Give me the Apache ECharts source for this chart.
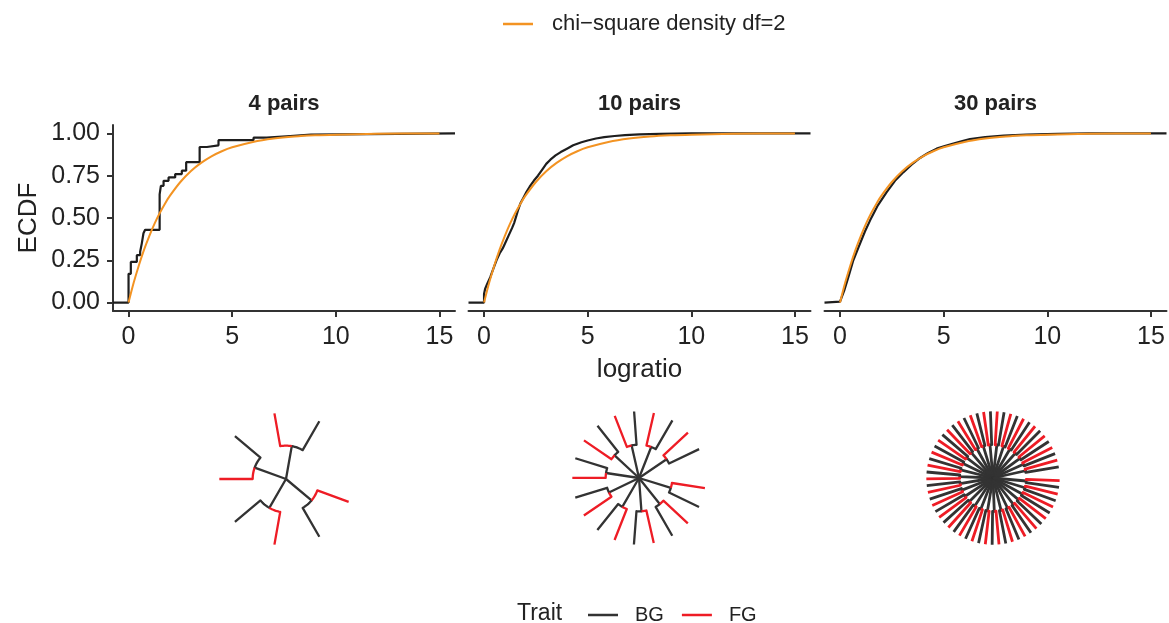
<!DOCTYPE html>
<html>
<head>
<meta charset="utf-8">
<script src="https://cdn.jsdelivr.net/npm/echarts@6/dist/echarts.min.js"></script>
<style>
html,body{margin:0;padding:0;background:#fff;}
#chart{width:1169px;height:623px;}
</style>
</head>
<body>
<div id="chart"></div>
<script>
// ---------------- DATA ----------------
const panelTitles = ['4 pairs', '10 pairs', '30 pairs'];
const xTicks = [0, 5, 10, 15];
const yTicks = [0, 0.25, 0.5, 0.75, 1];
const CHI_NAME = 'chi\u2212square density df=2';

// orange reference curve
const chiX = [0, 0.25, 0.5, 0.75, 1, 1.25, 1.5, 1.75, 2, 2.5, 3, 3.5, 4, 4.5, 5, 6, 7, 8, 9, 10, 12, 15];
const chiY = [0, 0.118, 0.221, 0.313, 0.393, 0.465, 0.528, 0.583, 0.632, 0.713, 0.777, 0.826, 0.865, 0.895, 0.918, 0.950, 0.970, 0.982, 0.989, 0.993, 0.998, 1.0];

// ECDF steps, 4 pairs
const ecdf4X = [0, 0.11, 0.40, 0.56, 0.64, 0.72, 0.80, 1.50, 1.56, 1.69, 1.93, 2.25, 2.57, 2.78, 3.43, 3.78, 4.34, 6.03, 6.67, 7.8, 8.8];
const ecdf4Y = [0.17, 0.24, 0.28, 0.30, 0.35, 0.41, 0.43, 0.64, 0.69, 0.72, 0.74, 0.76, 0.78, 0.83, 0.92, 0.93, 0.96, 0.975, 0.985, 0.993, 1.0];
// ECDF, 10 pairs (fine steps)
const ecdf10X = [0, 0, 0.05, 0.15, 0.3, 0.45, 0.6, 0.75, 0.9, 1.05, 1.2, 1.35, 1.45, 1.55, 1.65, 1.75, 1.9, 2.05, 2.2, 2.4, 2.6, 2.8, 3.0, 3.2, 3.45, 3.7, 4.0, 4.3, 4.7, 5.0, 5.4, 5.8, 6.3, 6.8, 7.5, 8.5, 10];
const ecdf10Y = [0, 0.05, 0.08, 0.11, 0.15, 0.2, 0.25, 0.29, 0.32, 0.36, 0.4, 0.44, 0.47, 0.51, 0.55, 0.585, 0.62, 0.655, 0.685, 0.72, 0.75, 0.785, 0.82, 0.845, 0.87, 0.89, 0.91, 0.93, 0.948, 0.958, 0.97, 0.978, 0.985, 0.99, 0.994, 0.997, 1.0];
// ECDF, 30 pairs (steps too fine to see)
const ecdf30X = [0, 0.2, 0.4, 0.64, 0.9, 1.2, 1.45, 1.8, 2.25, 2.65, 3.05, 3.45, 3.86, 4.25, 4.66, 5.05, 5.47, 5.9, 6.27, 7, 7.9, 9, 10.5, 12];
const ecdf30Y = [0.005, 0.07, 0.15, 0.25, 0.33, 0.42, 0.486, 0.57, 0.653, 0.72, 0.77, 0.815, 0.855, 0.885, 0.91, 0.925, 0.94, 0.955, 0.967, 0.978, 0.987, 0.993, 0.997, 1.0];

// trees: tip traits in circular order; consecutive tips form a pair (cherry)
const traits4 = ['BG','FG','BG','FG','BG','FG','BG','FG'];
const traits10 = ['BG','FG','BG','FG','BG','FG','BG','FG','BG','FG','BG','FG','BG','FG','BG','FG','BG','FG','BG','FG'];
const traits30 = ['BG','FG','BG','FG','BG','FG','BG','FG','BG','FG','BG','FG','BG','FG','BG','FG','BG','FG','BG','FG',
                  'BG','FG','BG','FG','BG','FG','BG','FG','BG','FG','BG','FG','BG','FG','BG','FG','BG','FG','BG','FG',
                  'BG','FG','BG','FG','BG','FG','BG','FG','BG','FG','BG','FG','BG','FG','BG','FG','BG','FG','BG','FG'];
const nodeDepth = 1;   // root -> cherry node branch length
const tipDepth = 2;    // root -> tip total depth

// ---------------- LAYOUT / STYLE ----------------
const FONT = "'Liberation Sans', Arial, Helvetica, sans-serif";
const X_MIN = -0.75, X_MAX = 15.75, Y_MIN = -0.05, Y_MAX = 1.05;
const COL_BLACK = '#333333', COL_RED = '#EE1C25', COL_ORANGE = '#F39322', COL_TEXT = '#222222';
const gridLefts = [113, 468.5, 824.5];
const treeCenters = [[286, 479], [639, 478], [993, 478]];
const treeRot = [20, 8.5, 3.7];
const treeLineW = [2.3, 2.3, 2.8];
const allTraits = [traits4, traits10, traits30];
const ecdfSets = [[ecdf4X, ecdf4Y, 'end'], [ecdf10X, ecdf10Y, false], [ecdf30X, ecdf30Y, false]];

const chart = echarts.init(document.getElementById('chart'), null, {renderer: 'canvas'});

const grids = [], xAxes = [], yAxes = [], series = [], polars = [], angleAxes = [], radiusAxes = [], graphics = [];

for (let i = 0; i < 3; i++) {
  grids.push({left: gridLefts[i], top: 125, width: 342, height: 186});
  xAxes.push({
    gridIndex: i, type: 'value', min: X_MIN, max: X_MAX,
    axisLine: {show: true, onZero: false, lineStyle: {color: COL_BLACK, width: 2}},
    axisTick: {show: true, length: 6, lineStyle: {color: COL_BLACK, width: 2}, customValues: xTicks},
    axisLabel: {show: true, customValues: xTicks, fontSize: 25, color: COL_TEXT, fontFamily: FONT, margin: 14},
    splitLine: {show: false},
    name: i === 1 ? 'logratio' : '', nameLocation: 'middle', nameGap: 46,
    nameTextStyle: {fontSize: 26, color: COL_TEXT, fontFamily: FONT}
  });
  const showY = i === 0;
  yAxes.push({
    gridIndex: i, type: 'value', min: Y_MIN, max: Y_MAX,
    axisLine: {show: showY, onZero: false, lineStyle: {color: COL_BLACK, width: 2}},
    axisTick: {show: showY, length: 6, lineStyle: {color: COL_BLACK, width: 2}, customValues: yTicks},
    axisLabel: {show: showY, customValues: yTicks, fontSize: 25, color: COL_TEXT, fontFamily: FONT, margin: 13,
                formatter: v => v.toFixed(2)},
    splitLine: {show: false},
    name: showY ? 'ECDF' : '', nameLocation: 'middle', nameGap: 71,
    nameTextStyle: {fontSize: 26, color: COL_TEXT, fontFamily: FONT}
  });
  const [ex, ey, st] = ecdfSets[i];
  const ecdfData = [[X_MIN, 0]].concat(ex.map((x, k) => [x, ey[k]])).concat([[X_MAX, 1]]);
  series.push({
    type: 'line', name: 'ecdf' + i, xAxisIndex: i, yAxisIndex: i, data: ecdfData,
    step: st, showSymbol: false, symbol: 'none', silent: true, z: 2,
    lineStyle: {color: '#1e1e1e', width: 2.2}
  });
  series.push({
    type: 'line', name: CHI_NAME, xAxisIndex: i, yAxisIndex: i,
    data: chiX.map((x, k) => [x, chiY[k]]), smooth: 0.3,
    showSymbol: false, symbol: 'none', silent: true, z: 3,
    itemStyle: {color: COL_ORANGE}, lineStyle: {color: COL_ORANGE, width: 2}
  });
  graphics.push({
    type: 'text', x: gridLefts[i] + 171, y: 104,
    style: {text: panelTitles[i], textAlign: 'center', textVerticalAlign: 'middle',
            font: 'bold 22px ' + FONT, fill: COL_TEXT}
  });

  // ---- tree ----
  const traits = allTraits[i];
  const n = traits.length;
  const lw = treeLineW[i];
  polars.push({center: treeCenters[i], radius: 70});
  angleAxes.push({polarIndex: i, type: 'value', min: 0, max: n + 1, startAngle: treeRot[i], clockwise: false,
    axisLine: {show: false}, axisTick: {show: false}, axisLabel: {show: false}, splitLine: {show: false}});
  radiusAxes.push({polarIndex: i, type: 'value', min: 0, max: 2.1,
    axisLine: {show: false}, axisTick: {show: false}, axisLabel: {show: false}, splitLine: {show: false}});
  ['BG', 'FG'].forEach(tr => {
    const col = tr === 'BG' ? COL_BLACK : COL_RED;
    const data = [];
    traits.forEach((t, k) => {
      if (t !== tr) return;
      const tip = k + 1;
      const node = Math.floor(k / 2) * 2 + 1.5;
      data.push([tipDepth, tip, node]);
    });
    series.push({
      type: 'custom', name: tr, coordinateSystem: 'polar', polarIndex: i,
      data: data, encode: {radius: 0, angle: 1}, clip: false, silent: true, z: tr === 'BG' ? 4 : 5,
      itemStyle: {color: col},
      renderItem: function (params, api) {
        const depth = api.value(0), tip = api.value(1), node = api.value(2);
        const pts = [];
        if (tr === 'BG') pts.push(api.coord([0, node]));
        const steps = 8;
        for (let s = 0; s <= steps; s++) {
          pts.push(api.coord([nodeDepth, node + (tip - node) * s / steps]));
        }
        pts.push(api.coord([depth, tip]));
        return {type: 'polyline', shape: {points: pts},
                style: {stroke: col, lineWidth: lw, fill: null, lineJoin: 'round'}};
      }
    });
  });
}

graphics.push({
  type: 'text', x: 517, y: 614,
  style: {text: 'Trait', textAlign: 'left', textVerticalAlign: 'middle', font: '23px ' + FONT, fill: COL_TEXT}
});

chart.setOption({
  animation: false,
  backgroundColor: '#ffffff',
  textStyle: {fontFamily: FONT},
  grid: grids, xAxis: xAxes, yAxis: yAxes,
  polar: polars, angleAxis: angleAxes, radiusAxis: radiusAxes,
  legend: [
    {data: [{name: CHI_NAME, icon: 'rect'}], left: 498, top: 8, itemWidth: 30, itemHeight: 2.5,
     selectedMode: false, textStyle: {fontSize: 22, color: COL_TEXT, fontFamily: FONT, padding: [0, 0, 0, 14]}},
    {data: [{name: 'BG', icon: 'rect'}, {name: 'FG', icon: 'rect'}], left: 583, top: 600, itemWidth: 30, itemHeight: 2.5,
     itemGap: 18, selectedMode: false, textStyle: {fontSize: 20, color: COL_TEXT, fontFamily: FONT, padding: [0, 0, 0, 12]}}
  ],
  graphic: graphics,
  series: series
});
</script>
</body>
</html>
